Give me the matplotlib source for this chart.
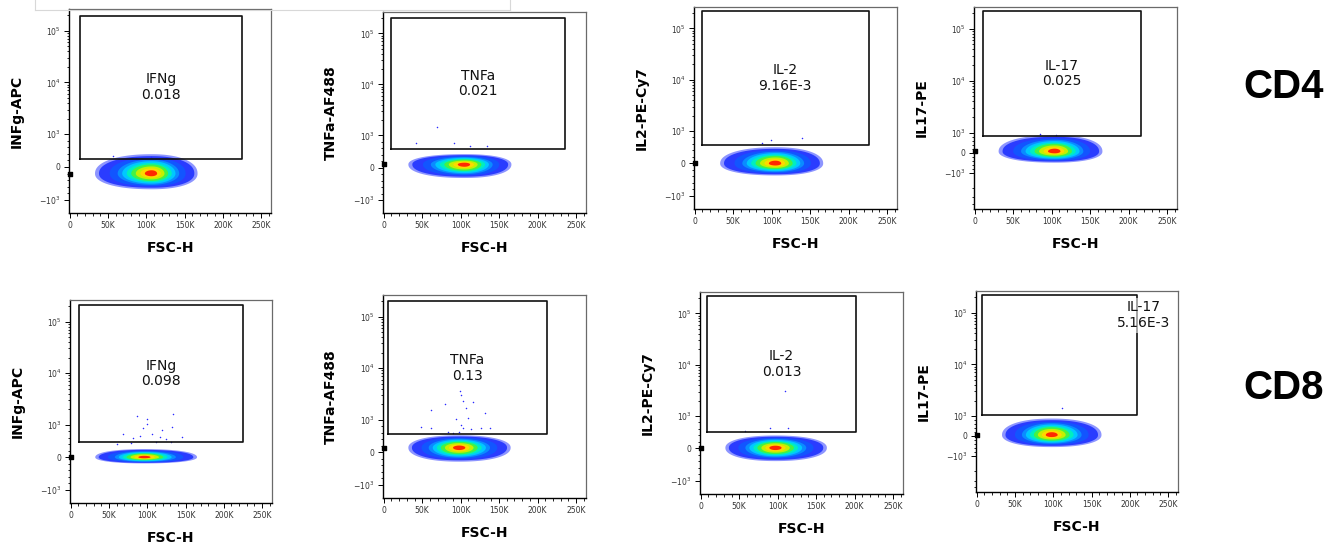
import numpy as np
import matplotlib
matplotlib.use('Agg')
import matplotlib.pyplot as plt
from matplotlib.lines import Line2D
from matplotlib.ticker import FixedLocator, FixedFormatter, MultipleLocator

W, H = 1336, 552

# panels: CD4 row (first four), then CD8 row
y_labels = ['INFg-APC', 'TNFa-AF488', 'IL2-PE-Cy7', 'IL17-PE'] * 2
gate_names = ['IFNg', 'TNFa', 'IL-2', 'IL-17'] * 2
gate_values = ['0.018', '0.021', '9.16E-3', '0.025',
               '0.098', '0.13', '0.013', '5.16E-3']
row_labels = ['CD4', 'CD8']

# gate rectangles: FSC-H in K, fluorescence in raw units
gate_x0 = [13, 10, 9.5, 10.8, 10.5, 6, 8, 7.4]
gate_x1 = [225, 236, 226, 216, 225, 212, 202, 209]
gate_y0 = [250, 575, 580, 835, 460, 545, 505, 1050]
gate_y1 = [1.95e5, 2.0e5, 2.2e5, 2.2e5, 2.1e5, 2.0e5, 2.2e5, 2.2e5]

# main population: FSC-H extent (K), fluorescence extent, densest point
cloud_x = [(33, 167), (32, 166), (33, 167), (31, 166),
           (32, 165), (32, 165), (32, 164), (33, 163)]
cloud_y = [(-680, 390), (-320, 420), (-370, 500), (-500, 880),
           (-190, 250), (-290, 520), (-390, 400), (-560, 880)]
cloud_peak = [(107, -200), (105, 100), (105, 0), (104, 65),
              (96, 0), (98, 140), (97, 20), (98, 50)]

# scattered events outside the main population (FSC-H in K)
out_x = [
    [57, 86, 105.6],
    [69.6, 42.5, 91, 112.6, 134],
    [99, 139, 88],
    [85, 106],
    [86, 99, 133.5, 132, 119, 94, 68, 81, 90, 106, 116, 146, 131, 79, 112, 100, 124, 60],
    [99.6, 100.5, 102.6, 115.6, 80, 62, 107, 132, 94, 109, 100.5, 102.6, 49, 62,
     113.5, 126.5, 138, 83, 89.6, 98],
    [109.6, 57, 90.5, 113],
    [111],
]
out_y = [
    [344, 281, 312],
    [1490, 767, 767, 667, 667],
    [718, 797, 615],
    [950, 900],
    [1470, 1265, 1580, 940, 834, 884, 697, 594, 647, 697, 625, 625, 470, 437, 460,
     1020, 560, 420],
    [3560, 2985, 2320, 2220, 1970, 1540, 1650, 1320, 1030, 1090, 838, 734, 765, 734,
     703, 734, 734, 633, 581, 633],
    [3030, 532, 633, 633],
    [1450],
]

# axes frames in image pixels: left, bottom, right, top
frames = [(69, 213, 271, 9), (383, 213, 586, 12), (694, 209, 897, 7), (974, 209, 1177, 7),
          (70, 503, 272, 300), (383, 498, 586, 295), (700, 494, 903, 292), (976, 492, 1178, 291)]

# density bands: horizontal / vertical share of the population extent, colour
band_fx = [1.0, 0.93, 0.74, 0.6, 0.52, 0.44, 0.36, 0.28, 0.2, 0.12]
band_fy = [1.0, 0.9, 0.8, 0.72, 0.64, 0.55, 0.47, 0.37, 0.27, 0.17]
band_colors = ['#8d95ff', '#2a3cff', '#1255ff', '#0a8cff', '#00c8ff',
               '#00eec0', '#44f244', '#c4f000', '#ffd800', '#ff2800']

fig = plt.figure(figsize=(W / 100, H / 100), dpi=100)

t = np.linspace(0, 2 * np.pi, 360)
c, s = np.cos(t), np.sin(t)

for i in range(8):
    l, b, r, tp = frames[i]
    ax = fig.add_axes([l / W, 1 - b / H, (r - l) / W, (b - tp) / H])
    il17 = (i % 4 == 3)
    ax.set_yscale('symlog', linthresh=1000, linscale=0.345 if il17 else 0.57)
    ymin = -5000 if il17 else -1800
    ax.set_xlim(-1000, 263000)
    ax.set_ylim(ymin, 262144)

    # population drawn as nested density bands
    xlo, xhi = cloud_x[i]
    ylo, yhi = cloud_y[i]
    px, py = cloud_peak[i]
    for k, (fx, fy, col) in enumerate(zip(band_fx, band_fy, band_colors)):
        n = 2.2 if k < 3 else 2.0
        cc = np.sign(c) * np.abs(c) ** (2 / n)
        ss = np.sign(s) * np.abs(s) ** (2 / n)
        xs = px + fx * np.where(cc > 0, xhi - px, px - xlo) * cc
        ys = py + fy * np.where(ss > 0, yhi - py, py - ylo) * ss
        ax.fill(xs * 1000, ys, color=col, lw=0, zorder=2)
    ax.scatter(np.array(out_x[i]) * 1000, out_y[i], s=1.2, color='#2a2aff',
               lw=0, zorder=3)
    ax.scatter([0], [py], marker='s', s=9, color='black', clip_on=False, zorder=5)

    # gate
    gx = np.array([gate_x0[i], gate_x1[i], gate_x1[i], gate_x0[i], gate_x0[i]]) * 1000
    gy = [gate_y0[i], gate_y0[i], gate_y1[i], gate_y1[i], gate_y0[i]]
    ax.plot(gx, gy, color='#111111', lw=1.2, zorder=4)

    label = gate_names[i] + '\n' + gate_values[i]
    if i == 7:
        ax.text(0.83, 0.88, label, transform=ax.transAxes, ha='center', va='center',
                fontsize=10, color='#111111', linespacing=1.15, zorder=6,
                bbox=dict(facecolor='white', edgecolor='none', alpha=0.55, pad=2))
    else:
        tr = ax.yaxis.get_transform()
        ends = tr.transform(np.array([[gate_y0[i]], [gate_y1[i]]], dtype=float))
        mid = tr.inverted().transform(np.array([[ends.mean()]]))[0, 0]
        ax.text((gate_x0[i] + gate_x1[i]) / 2 * 1000, mid, label, ha='center', va='center',
                fontsize=10, color='#111111', linespacing=1.15, zorder=6)

    # ticks
    ax.xaxis.set_major_locator(FixedLocator([0, 50000, 100000, 150000, 200000, 250000]))
    ax.xaxis.set_major_formatter(FixedFormatter(['0', '50K', '100K', '150K', '200K', '250K']))
    ax.xaxis.set_minor_locator(MultipleLocator(10000))
    ax.yaxis.set_major_locator(FixedLocator([-1000, 0, 1000, 10000, 100000]))
    ax.yaxis.set_major_formatter(FixedFormatter(['$-10^3$', '0', '$10^3$', '$10^4$', '$10^5$']))
    minor = [200, 400, 600, 800, -200, -400, -600, -800]
    for e in (3, 4):
        minor += [k * 10 ** e for k in range(2, 10)]
    minor += [200000]
    minor += [-k * 1000 for k in range(2, 10) if -k * 1000 > ymin]
    ax.yaxis.set_minor_locator(FixedLocator(minor))
    ax.tick_params(which='major', length=3.5, width=0.7, labelsize=5.5,
                   labelcolor='#333333', pad=2.5)
    ax.tick_params(which='minor', length=1.8, width=0.6)

    for side in ('left', 'bottom'):
        ax.spines[side].set_color('black')
        ax.spines[side].set_linewidth(1.0)
    for side in ('top', 'right'):
        ax.spines[side].set_color('#6a6a6a')
        ax.spines[side].set_linewidth(0.9)

    wpx, hpx = r - l, b - tp
    ax.set_xlabel('FSC-H', fontsize=10, fontweight='bold')
    ax.set_ylabel(y_labels[i], fontsize=10, fontweight='bold')
    ax.xaxis.set_label_coords(0.5, -28 / hpx)
    ax.yaxis.set_label_coords(-45 / wpx, 0.5)

for name, yc in zip(row_labels, [87, 388]):
    fig.text(1284 / W, 1 - yc / H, name, ha='center', va='center',
             fontsize=29, fontweight='bold', family='Liberation Sans')

# thin gray window edge at the top left
for xs, ys in [([35, 510], [10, 10]), ([35, 35], [0, 10]), ([510, 510], [0, 10])]:
    fig.add_artist(Line2D(np.array(xs) / W, 1 - np.array(ys) / H, color='#d8d8d8', lw=0.8))

fig.savefig('out.png', dpi=100)
